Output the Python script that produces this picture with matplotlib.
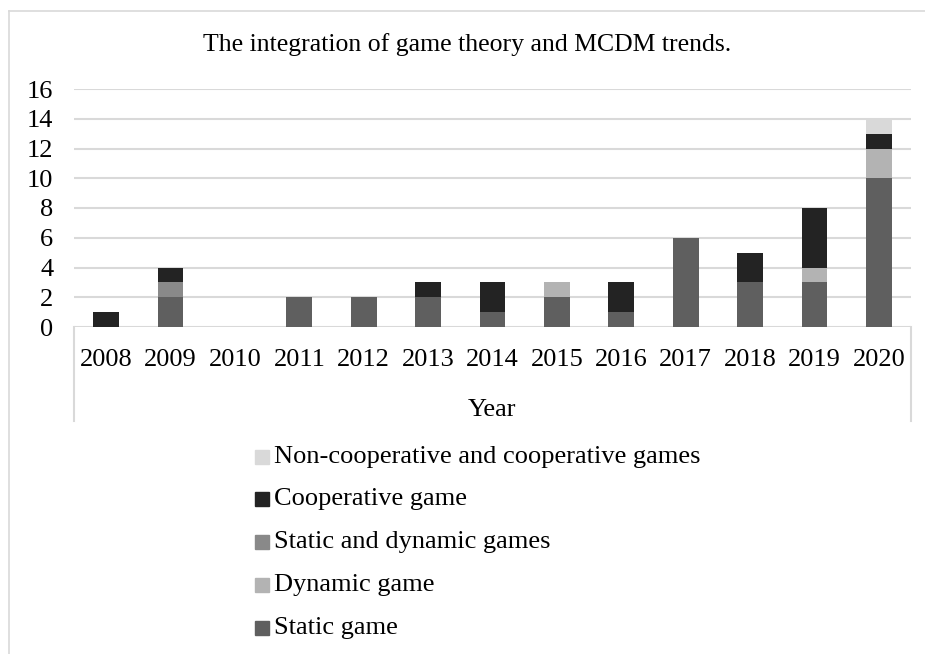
import matplotlib
matplotlib.use("Agg")
import matplotlib.pyplot as plt
from matplotlib.patches import Rectangle
from matplotlib.lines import Line2D
import numpy as np

years = ["2008", "2009", "2010", "2011", "2012", "2013", "2014",
         "2015", "2016", "2017", "2018", "2019", "2020"]
static_game = [0, 2, 0, 2, 2, 2, 1, 2, 1, 6, 3, 3, 10]
dynamic_game = [0, 0, 0, 0, 0, 0, 0, 1, 0, 0, 0, 1, 2]
static_dynamic = [0, 1, 0, 0, 0, 0, 0, 0, 0, 0, 0, 0, 0]
cooperative = [1, 1, 0, 0, 0, 1, 2, 0, 2, 0, 2, 4, 1]
noncoop_coop = [0, 0, 0, 0, 0, 0, 0, 0, 0, 0, 0, 0, 1]

series = [
    ("Static game", static_game, "#5f5f5f"),
    ("Dynamic game", dynamic_game, "#b3b3b3"),
    ("Static and dynamic games", static_dynamic, "#898989"),
    ("Cooperative game", cooperative, "#232323"),
    ("Non-cooperative and cooperative games", noncoop_coop, "#d9d9d9"),
]

plt.rcParams["font.family"] = ["Liberation Serif", "DejaVu Serif"]
W, H = 925, 654
fig = plt.figure(figsize=(W / 100, H / 100), dpi=100)

def fx(px):
    return px / W

def fy(py):
    return 1 - py / H

# chart border (top and left only visible)
grey = "#d9d9d9"
fig.add_artist(Line2D([fx(9), 1], [fy(11), fy(11)], color=grey, lw=1.2))
fig.add_artist(Line2D([fx(9), fx(9)], [fy(11), 0], color=grey, lw=1.2))

left, right, top, bottom = 74, 911, 89, 327
ax = fig.add_axes([fx(left), fy(bottom), fx(right - left), fy(top) - fy(bottom)])

x = np.arange(len(years))
base = np.zeros(len(years))
for name, vals, col in series:
    vals = np.array(vals, dtype=float)
    ax.bar(x, vals, width=0.4, bottom=base, color=col, label=name, zorder=3)
    base += vals

ax.set_xlim(-0.5, len(years) - 0.5)
ax.set_ylim(0, 16)
ax.set_yticks(range(0, 17, 2))
ax.yaxis.grid(True, color=grey, lw=1.5, zorder=0)
ax.set_axisbelow(True)
for s in ax.spines.values():
    s.set_visible(False)
ax.tick_params(axis="y", length=0, pad=15, labelsize=19)
ax.set_xticks(x)
ax.set_xticklabels(years)
ax.tick_params(axis="x", length=0, pad=16, labelsize=19)

# category axis box
fig.add_artist(Line2D([fx(left), fx(left)], [fy(bottom), fy(421)], color=grey, lw=1.5))
fig.add_artist(Line2D([fx(right), fx(right)], [fy(bottom), fy(421)], color=grey, lw=1.5))

fig.text(fx(467), fy(45), "The integration of game theory and MCDM trends.",
         ha="center", va="center", fontsize=18.5)
fig.text(fx(492), fy(410), "Year", ha="center", va="center", fontsize=19)

# legend, reversed order
ys = [457, 499, 542, 585, 628]
for (name, vals, col), yy in zip(series[::-1], ys):
    fig.add_artist(Rectangle((fx(255), fy(yy + 7)), fx(14), fy(yy - 7) - fy(yy + 7),
                             color=col, transform=fig.transFigure))
    fig.text(fx(274), fy(yy), name, ha="left", va="center", fontsize=19)

fig.savefig("out.png", dpi=100)
